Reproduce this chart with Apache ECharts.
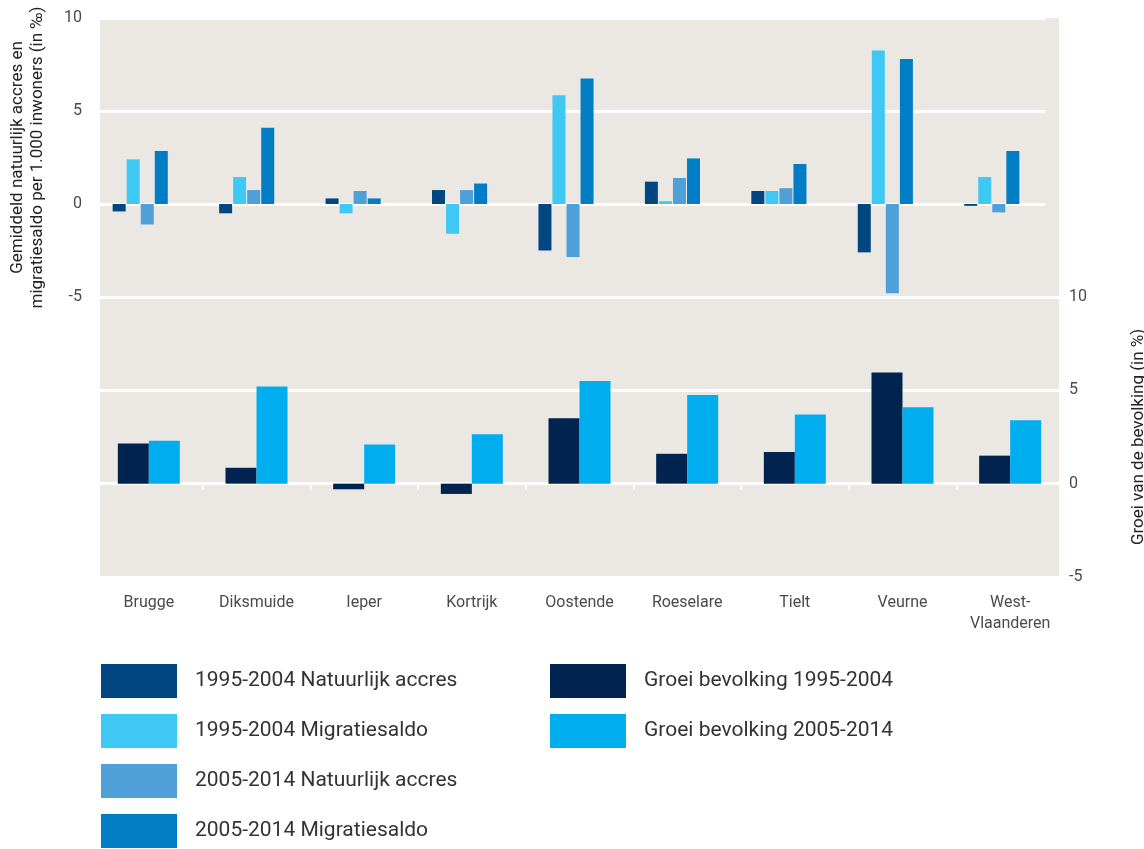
<!DOCTYPE html>
<html>
<head>
<meta charset="utf-8">
<script src="https://cdn.jsdelivr.net/npm/echarts@6/dist/echarts.min.js"></script>
<style>
  html, body { margin: 0; padding: 0; background: #fff; overflow: hidden; }
  #chart { width: 1144px; height: 849px; }
</style>
</head>
<body>
<div id="chart"></div>
<script>
const regions = ['Brugge', 'Diksmuide', 'Ieper', 'Kortrijk', 'Oostende', 'Roeselare', 'Tielt', 'Veurne', 'West-\nVlaanderen'];
// bovenste deel: per 1.000 inwoners
const natuurlijk9504 = [-0.4, -0.5, 0.3, 0.75, -2.5, 1.2, 0.7, -2.6, -0.1];
const migratie9504 = [2.4, 1.45, -0.5, -1.6, 5.85, 0.15, 0.7, 8.25, 1.45];
const natuurlijk0514 = [-1.1, 0.75, 0.7, 0.75, -2.85, 1.4, 0.85, -4.8, -0.45];
const migratie0514 = [2.85, 4.1, 0.3, 1.1, 6.75, 2.45, 2.15, 7.8, 2.85];
// onderste deel: groei in %
const groei9504 = [2.15, 0.85, -0.3, -0.55, 3.5, 1.6, 1.7, 5.95, 1.5];
const groei0514 = [2.3, 5.2, 2.1, 2.65, 5.5, 4.75, 3.7, 4.1, 3.4];

const fontFamily = 'Roboto, "Noto Sans", sans-serif';
const labelColor = '#4a4a4a';
const bgGrey = '#ebe8e3';

const chart = echarts.init(document.getElementById('chart'));

const option = {
  animation: false,
  textStyle: { fontFamily: fontFamily },
  graphic: [{
    type: 'rect',
    z: -10,
    shape: { x: 100, y: 18, width: 959, height: 560 },
    style: { fill: bgGrey }
  }],
  grid: [
    { left: 87, right: 99, top: 18, height: 279, outerBoundsMode: 'none', containLabel: false },
    { left: 95, right: 80, top: 297, height: 280, outerBoundsMode: 'none', containLabel: false }
  ],
  xAxis: [
    {
      type: 'category', gridIndex: 0, data: regions,
      axisLine: { show: false }, axisTick: { show: false }, axisLabel: { show: false }
    },
    {
      type: 'category', gridIndex: 1, data: regions, position: 'bottom',
      axisLine: { show: false, onZero: false }, axisTick: { show: false },
      axisLabel: { color: labelColor, fontSize: 16, margin: 15, lineHeight: 21 }
    },
    {
      type: 'category', gridIndex: 1, data: regions,
      axisLine: { show: true, onZero: true, lineStyle: { color: '#fff', width: 3 } },
      axisTick: { show: true, inside: true, length: 6, lineStyle: { color: '#fff', width: 2 } },
      axisLabel: { show: false }
    }
  ],
  yAxis: [
    {
      type: 'value', gridIndex: 0, min: -5, max: 10, interval: 5,
      name: 'Gemiddeld natuurlijk accres en\nmigratiesaldo per 1.000 inwoners (in ‰)',
      nameLocation: 'middle', nameRotate: 90, nameGap: 39,
      nameTextStyle: { color: '#222', fontSize: 17, lineHeight: 20 },
      axisLine: { show: false }, axisTick: { show: false },
      axisLabel: { color: labelColor, fontSize: 16, margin: 5 },
      splitLine: { show: true, lineStyle: { color: '#fff', width: 3 } }
    },
    {
      type: 'value', gridIndex: 1, position: 'right', min: -5, max: 10, interval: 5,
      name: 'Groei van de bevolking (in %)',
      nameLocation: 'middle', nameRotate: 90, nameGap: 66,
      nameTextStyle: { color: '#222', fontSize: 17 },
      axisLine: { show: false }, axisTick: { show: false },
      axisLabel: { color: labelColor, fontSize: 16, margin: 5 },
      splitLine: { show: true, lineStyle: { color: '#fff', width: 3 } }
    }
  ],
  legend: [
    {
      data: ['1995-2004 Natuurlijk accres', '1995-2004 Migratiesaldo', '2005-2014 Natuurlijk accres', '2005-2014 Migratiesaldo'],
      orient: 'vertical', left: 101, top: 664, padding: 0,
      itemWidth: 76, itemHeight: 34, itemGap: 16, icon: 'rect',
      textStyle: { fontSize: 21, color: '#333', padding: [0, 0, 0, 13] }
    },
    {
      data: ['Groei bevolking 1995-2004', 'Groei bevolking 2005-2014'],
      orient: 'vertical', left: 550, top: 664, padding: 0,
      itemWidth: 76, itemHeight: 34, itemGap: 16, icon: 'rect',
      textStyle: { fontSize: 21, color: '#333', padding: [0, 0, 0, 13] }
    }
  ],
  series: [
    { name: '1995-2004 Natuurlijk accres', type: 'bar', xAxisIndex: 0, yAxisIndex: 0,
      data: natuurlijk9504, barWidth: 13, barGap: '8%', itemStyle: { color: '#004680' } },
    { name: '1995-2004 Migratiesaldo', type: 'bar', xAxisIndex: 0, yAxisIndex: 0,
      data: migratie9504, barWidth: 13, barGap: '8%', itemStyle: { color: '#40c8f4' } },
    { name: '2005-2014 Natuurlijk accres', type: 'bar', xAxisIndex: 0, yAxisIndex: 0,
      data: natuurlijk0514, barWidth: 13, barGap: '8%', itemStyle: { color: '#4f9fd8' } },
    { name: '2005-2014 Migratiesaldo', type: 'bar', xAxisIndex: 0, yAxisIndex: 0,
      data: migratie0514, barWidth: 13, barGap: '8%', itemStyle: { color: '#007dc5' } },
    { name: 'Groei bevolking 1995-2004', type: 'bar', xAxisIndex: 1, yAxisIndex: 1,
      data: groei9504, barWidth: 31, barGap: '0%', itemStyle: { color: '#00234f' } },
    { name: 'Groei bevolking 2005-2014', type: 'bar', xAxisIndex: 1, yAxisIndex: 1,
      data: groei0514, barWidth: 31, barGap: '0%', itemStyle: { color: '#00adef' } }
  ]
};

chart.setOption(option);
</script>
</body>
</html>
